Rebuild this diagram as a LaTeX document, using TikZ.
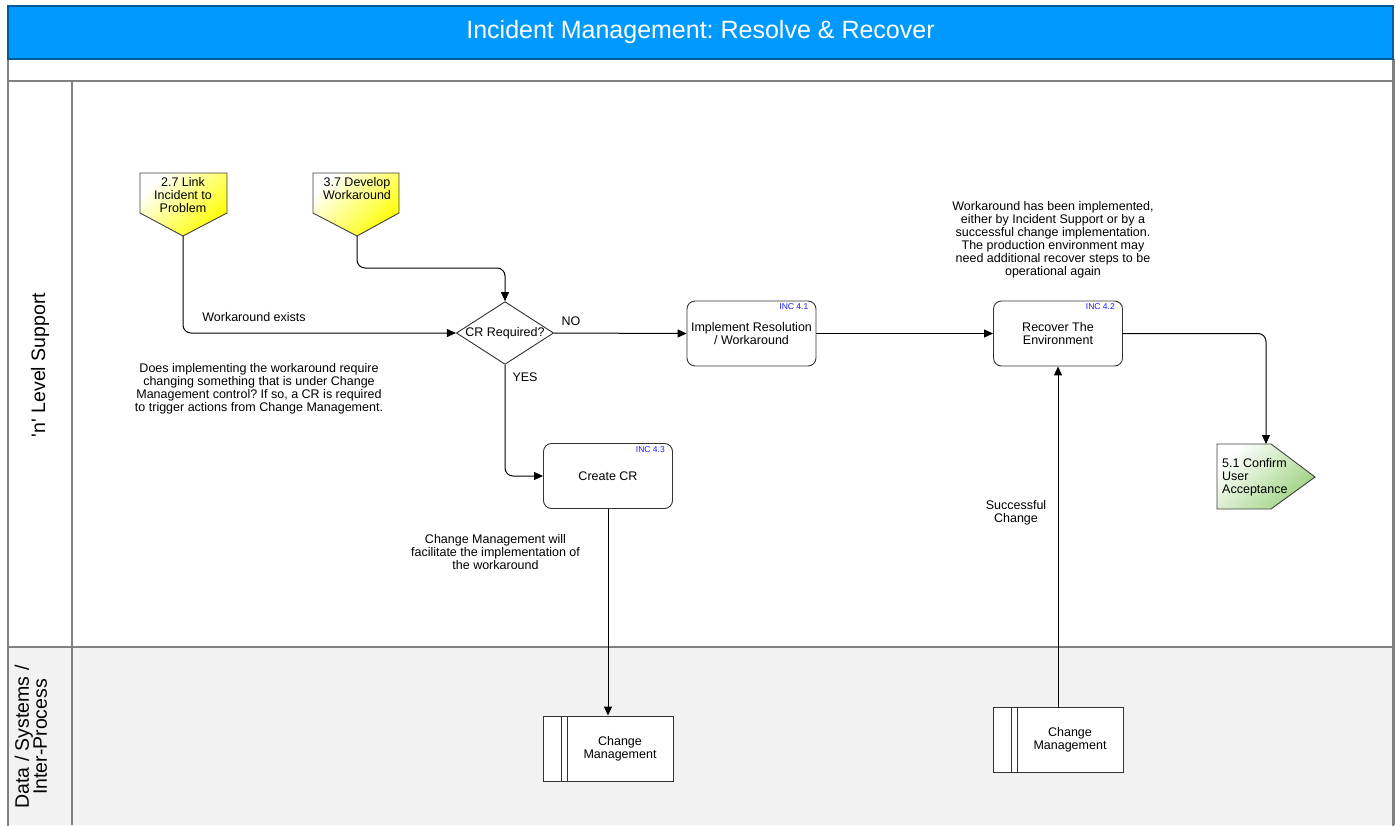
\documentclass[tikz,border=0pt]{standalone}
\usepackage{fontspec}
\setmainfont{Liberation Sans}
\usetikzlibrary{shapes.geometric}
\usetikzlibrary{arrows.meta}
\usetikzlibrary{positioning}
\definecolor{titleblue}{HTML}{0099FF}
\definecolor{lanegray}{HTML}{F2F2F2}
\definecolor{framegray}{HTML}{808080}
\definecolor{tagblue}{HTML}{1A1AFF}
\definecolor{offyellow}{HTML}{FFFF00}
\definecolor{offgreen}{HTML}{9CD27E}
\frenchspacing

\begin{document}
\begin{tikzpicture}
	[x=1pt, y=-1pt,
	txt/.style = {font=\fontsize{12.5}{13}\selectfont, align=center, inner sep=0pt},
	task/.style = {txt, draw=black!80, line width=0.9pt, rounded corners=8pt, minimum width=129pt, minimum height=65pt, fill=white},
	decision/.style = {txt, draw=black!80, line width=0.9pt, diamond, aspect=1.55, minimum width=96pt, minimum height=62pt, fill=white},
	store/.style = {txt, draw=black!80, line width=0.9pt, fill=white, minimum width=106pt, minimum height=65pt},
	stripe/.style = {draw=black!80, line width=0.9pt, fill=white},
	tag/.style = {font=\fontsize{8.5}{8.5}\selectfont, text=tagblue, inner sep=0pt},
	flow/.style = {-{Triangle[length=9pt,width=8pt]}, line width=1pt, rounded corners=8pt},
	offpage/.style = {draw=black!75, line width=0.9pt, top color=white, bottom color=offyellow, shading angle=45},
	offpagegreen/.style = {draw=black!75, line width=0.9pt, top color=white, bottom color=offgreen, shading angle=45},
	lane/.style = {draw=framegray, line width=1.5pt},
	lanetext/.style = {font=\fontsize{19.5}{18}\selectfont, align=center, rotate=90, inner sep=0pt}]
	\useasboundingbox (0,0) rectangle (1395,825);
	% swimlanes
	\fill[white] (0,0) rectangle (1395,825);
	\fill[lanegray] (8,647) rectangle (1393,825);
	\draw[lane] (8,59) rectangle (1393,81);
	\draw[lane] (8,81) rectangle (1393,830);
	\draw[lane] (8,647) -- (1393,647);
	\draw[lane] (72,81) -- (72,825);
	\draw[framegray, line width=3pt] (1393,59) -- (1393,825);
	\node[fill=titleblue, draw=titleblue!60!black, line width=1.5pt, minimum width=1385pt, minimum height=53pt, inner sep=0pt, text=white, font=\fontsize{25}{30}\selectfont] (title) at (700.5,32.5) {Incident Management: Resolve \& Recover};
	\node[lanetext] (lane1) at (40,365) {\textquotesingle n\textquotesingle{} Level Support};
	\node[lanetext] (lane2) at (31,737) {Data / Systems /\\Inter-Process};
	% off-page references
	\draw[offpage] (140,173) -- (227,173) -- (227,213) -- (183,236) -- (140,213) -- cycle;
	\node[txt] (l27) at (183,195) {2.7 Link\\Incident to\\Problem};
	\coordinate (l27tip) at (183,236);
	\draw[offpage] (313,173) -- (399,173) -- (399,213) -- (357,236) -- (313,213) -- cycle;
	\node[txt] (d37) at (357,189) {3.7 Develop\\Workaround};
	\coordinate (d37tip) at (357,236);
	\draw[offpagegreen] (1217,444) -- (1271,444) -- (1315,477) -- (1271,509) -- (1217,509) -- cycle;
	\node[txt, anchor=west, align=left] (acc) at (1222,477) {5.1 Confirm\\User\\Acceptance};
	\coordinate (accin) at (1266,444);
	% process steps
	\node[decision] (dia) at (505,333) {CR Required?};
	\node[task] (impl) at (751.5,333.5) {Implement Resolution\\/ Workaround};
	\node[tag, below left=3pt and 8pt of impl.north east, anchor=north east] (tag41) {INC 4.1};
	\node[task] (rec) at (1058,333.5) {Recover The\\Environment};
	\node[tag, below left=3pt and 8pt of rec.north east, anchor=north east] (tag42) {INC 4.2};
	\node[task] (ccr) at (608,476) {Create CR};
	\node[tag, below left=3pt and 8pt of ccr.north east, anchor=north east] (tag43) {INC 4.3};
	% change management
	\draw[stripe] (543,716) rectangle (567,781);
	\draw[stripe] (561,716) -- (561,781);
	\node[store] (cm1) at (620,748.5) {Change\\Management};
	\draw[stripe] (993,707) rectangle (1017,772);
	\draw[stripe] (1011,707) -- (1011,772);
	\node[store] (cm2) at (1070,739.5) {Change\\Management};
	% connectors
	\draw[flow] (l27tip) |- (dia.west);
	\draw[flow] (d37tip) -- ++(0,32) -| (dia.north);
	\draw[flow] (dia.east) -- (impl.west);
	\draw[flow] (dia.south) |- (ccr.west);
	\draw[flow] (impl.east) -- (rec.west);
	\draw[flow] (rec.east) -| (accin);
	\draw[flow] (ccr.south) -- (ccr.south |- cm1.north);
	\draw[flow] (rec.south |- cm2.north) -- (rec.south);
	% labels and notes
	\node[txt] (lwork) at (254,317) {Workaround exists};
	\node[txt] (lno) at (571,321) {NO};
	\node[txt] (lyes) at (525,377) {YES};
	\node[txt] (lsucc) at (1016,513) {Successful\\Change};
	\node[txt] (note1) at (259,388.5) {Does implementing the workaround require\\changing something that is under Change\\Management control? If so, a CR is required\\to trigger actions from Change Management.};
	\node[txt] (note2) at (1053,240) {Workaround has been implemented,\\either by Incident Support or by a\\successful change implementation.\\ The production environment may\\need additional recover steps to be\\operational again};
	\node[txt] (note3) at (495.5,552) {Change Management will\\facilitate the implementation of\\the workaround};
\end{tikzpicture}
\end{document}
